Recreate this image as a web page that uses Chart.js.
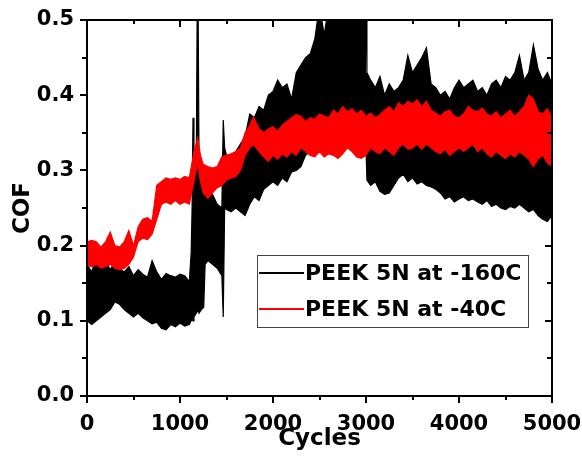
<!DOCTYPE html>
<html>
<head>
<meta charset="utf-8">
<script src="https://cdn.jsdelivr.net/npm/chart.js@4"></script>
<style>
  html, body { margin: 0; padding: 0; background: #fff; }
</style>
</head>
<body>
<canvas id="cof" width="582" height="461"></canvas>
<script>
// PEEK 5N at -160C : upper / lower edge of the noisy COF band
const blackCycles = [0,50,100,150,200,250,300,350,400,450,500,550,600,650,700,750,800,850,900,950,
  1000,1050,1100,1120,1130,1140,1150,1175,1185,1195,1205,1230,1255,1270,1300,1350,1400,1450,1465,1480,
  1500,1550,1600,1650,1700,1750,1800,1850,1900,1950,2000,2050,2100,2150,2200,2250,2300,2350,2400,2450,
  2500,2550,2600,2650,2700,2750,2800,2850,2900,2950,3000,3010,3050,3100,3150,3200,3250,3300,3350,3400,
  3450,3500,3550,3600,3650,3700,3750,3800,3850,3900,3950,4000,4050,4100,4150,4200,4250,4300,4350,4400,
  4450,4500,4550,4600,4650,4700,4750,4800,4850,4900,4950,5000];
const blackHigh = [.175,.165,.185,.170,.180,.168,.178,.170,.165,.172,.160,.168,.162,.158,.180,.165,.155,.163,.160,.158,
  .162,.160,.152,.190,.250,.370,.300,.310,.520,.520,.300,.290,.280,.270,.262,.268,.255,.250,.367,.330,
  .320,.318,.325,.335,.345,.375,.370,.385,.380,.400,.405,.420,.410,.415,.395,.430,.440,.450,.455,.475,
  .520,.480,.520,.520,.520,.520,.520,.520,.520,.520,.520,.430,.420,.410,.425,.400,.415,.405,.410,.420,
  .453,.430,.440,.450,.463,.415,.410,.400,.405,.395,.410,.420,.410,.415,.420,.405,.410,.400,.415,.420,
  .410,.425,.420,.430,.453,.420,.430,.467,.435,.420,.430,.415];
const blackLow = [.100,.095,.100,.105,.110,.115,.125,.122,.115,.110,.105,.110,.104,.100,.096,.098,.090,.088,.095,.092,
  .097,.093,.095,.100,.102,.100,.105,.110,.112,.115,.110,.115,.118,.175,.180,.175,.170,.160,.105,.250,
  .248,.245,.250,.245,.240,.255,.265,.260,.275,.280,.285,.280,.290,.285,.298,.300,.305,.320,.325,.330,
  .325,.332,.335,.340,.345,.340,.345,.340,.335,.340,.330,.287,.280,.285,.272,.268,.270,.280,.290,.295,
  .285,.290,.282,.285,.280,.278,.275,.270,.262,.265,.258,.262,.265,.260,.262,.258,.255,.260,.252,.255,
  .250,.248,.252,.250,.255,.250,.245,.248,.240,.235,.232,.240];

// PEEK 5N at -40C
const redCycles = [0,50,100,150,200,250,300,350,400,450,500,550,600,650,700,750,800,850,900,950,
  1000,1050,1100,1150,1190,1220,1250,1300,1350,1400,1450,1500,1550,1600,1650,1700,1750,1790,1850,1900,
  1950,2000,2050,2100,2150,2200,2250,2300,2350,2400,2450,2500,2550,2600,2650,2700,2750,2800,2850,2900,
  2950,3000,3050,3100,3150,3200,3250,3300,3350,3400,3450,3500,3550,3600,3650,3700,3750,3800,3850,3900,
  3950,4000,4050,4100,4150,4200,4250,4300,4350,4400,4450,4500,4550,4600,4650,4700,4750,4800,4850,4900,
  4950,5000];
const redHigh = [.205,.207,.205,.198,.205,.218,.200,.198,.205,.220,.200,.225,.235,.237,.232,.280,.285,.290,.288,.290,
  .288,.292,.290,.325,.343,.320,.308,.305,.303,.305,.318,.320,.322,.325,.330,.350,.360,.371,.355,.350,
  .355,.358,.352,.360,.365,.370,.374,.372,.365,.370,.368,.375,.372,.370,.380,.375,.385,.378,.382,.375,
  .380,.372,.376,.370,.374,.380,.385,.378,.390,.385,.392,.388,.394,.385,.392,.380,.376,.372,.378,.380,
  .372,.370,.375,.385,.380,.378,.383,.375,.372,.378,.370,.375,.380,.372,.378,.385,.400,.395,.378,.375,
  .382,.370];
const redLow = [.174,.172,.175,.170,.172,.175,.170,.168,.170,.175,.185,.205,.210,.208,.215,.235,.255,.258,.255,.260,
  .255,.258,.255,.285,.310,.285,.270,.263,.270,.277,.280,.287,.290,.292,.300,.320,.330,.335,.325,.318,
  .312,.320,.315,.322,.318,.325,.320,.330,.325,.320,.318,.325,.318,.322,.320,.316,.322,.330,.325,.318,
  .316,.320,.330,.325,.322,.330,.325,.320,.330,.335,.328,.330,.335,.328,.335,.330,.325,.322,.328,.320,
  .325,.330,.325,.330,.335,.325,.330,.322,.318,.325,.320,.316,.322,.318,.325,.320,.315,.305,.315,.320,
  .310,.305];

const xTicks = [0, 1000, 2000, 3000, 4000, 5000];
const yTicks = [0.0, 0.1, 0.2, 0.3, 0.4, 0.5];
const seriesNames = ['PEEK 5N at -160C', 'PEEK 5N at -40C'];

const FONT = 'DejaVu Sans';

function pts(xs, ys) { return xs.map((x, i) => ({ x: x, y: ys[i] })); }

// box with mirrored ticks: outward on left/bottom, inward on top/right, plus the legend
const frameTicks = {
  id: 'frameTicks',
  afterDraw(chart) {
    const { ctx, chartArea: a, scales } = chart;
    const xs = scales.x, ys = scales.y;
    ctx.save();
    ctx.strokeStyle = '#000';
    ctx.lineWidth = 2;
    ctx.strokeRect(a.left, a.top, a.right - a.left, a.bottom - a.top);
    ctx.beginPath();
    for (let i = 0; i < xTicks.length; i++) {
      const mids = i < xTicks.length - 1 ? [xTicks[i], (xTicks[i] + xTicks[i + 1]) / 2] : [xTicks[i]];
      mids.forEach((v, k) => {
        const px = Math.round(xs.getPixelForValue(v));
        const len = k === 0 ? 7 : 4;
        ctx.moveTo(px, a.bottom); ctx.lineTo(px, a.bottom + len);
        ctx.moveTo(px, a.top); ctx.lineTo(px, a.top + len);
      });
    }
    for (let i = 0; i < yTicks.length; i++) {
      const mids = i < yTicks.length - 1 ? [yTicks[i], (yTicks[i] + yTicks[i + 1]) / 2] : [yTicks[i]];
      mids.forEach((v, k) => {
        const py = Math.round(ys.getPixelForValue(v));
        const len = k === 0 ? 7 : 5;
        ctx.moveTo(a.left, py); ctx.lineTo(a.left - len, py);
        ctx.moveTo(a.right, py); ctx.lineTo(a.right - len, py);
      });
    }
    ctx.stroke();

    // legend
    const bx = 257, by = 255, bw = 271, bh = 72;
    ctx.fillStyle = '#fff';
    ctx.fillRect(bx, by, bw, bh);
    ctx.strokeStyle = '#444';
    ctx.lineWidth = 1;
    ctx.strokeRect(bx + 0.5, by + 0.5, bw, bh);
    const rows = [{ c: '#000', y: 273 }, { c: '#ff0000', y: 309 }];
    ctx.font = 'bold 22px "' + FONT + '"';
    ctx.textBaseline = 'middle';
    rows.forEach((r, i) => {
      ctx.strokeStyle = r.c;
      ctx.lineWidth = 2;
      ctx.beginPath();
      ctx.moveTo(bx + 2, r.y); ctx.lineTo(bx + 47, r.y);
      ctx.stroke();
      ctx.fillStyle = '#000';
      ctx.fillText(seriesNames[i], bx + 48, r.y + 1);
    });
    ctx.restore();
  }
};

const line = (data, color, order, fill) => ({
  data: data, borderColor: color, backgroundColor: color, borderWidth: 1.2,
  pointRadius: 0, tension: 0, order: order, fill: fill
});

new Chart(document.getElementById('cof'), {
  type: 'line',
  data: {
    datasets: [
      Object.assign(line(pts(redCycles, redHigh), '#ff0000', 0, false), { label: seriesNames[1] }),
      line(pts(redCycles, redLow), '#ff0000', 0, '-1'),
      Object.assign(line(pts(blackCycles, blackHigh), '#000000', 1, false), { label: seriesNames[0] }),
      line(pts(blackCycles, blackLow), '#000000', 1, '-1')
    ]
  },
  options: {
    responsive: false,
    animation: false,
    events: [],
    layout: { padding: { top: 20, right: 30, bottom: 0, left: 0 } },
    plugins: { legend: { display: false }, tooltip: { enabled: false } },
    scales: {
      x: {
        type: 'linear', min: 0, max: 5000,
        afterBuildTicks: s => { s.ticks = xTicks.map(v => ({ value: v })); },
        afterFit: s => { s.height = 65; s.paddingLeft = 0; s.paddingRight = 0; },
        grid: { display: false, drawTicks: false },
        border: { display: false },
        ticks: { padding: 16, color: '#000', maxRotation: 0, font: { family: FONT, size: 21, weight: 'bold' }, callback: v => String(v) },
        title: { display: true, text: 'Cycles', color: '#000', padding: { top: 0, bottom: 8 }, font: { family: FONT, size: 23, weight: 'bold' } }
      },
      y: {
        min: 0, max: 0.5,
        afterBuildTicks: s => { s.ticks = yTicks.map(v => ({ value: v })); },
        afterFit: s => { s.width = 87; s.paddingTop = 0; s.paddingBottom = 0; },
        grid: { display: false, drawTicks: false },
        border: { display: false },
        ticks: { padding: 13, color: '#000', font: { family: FONT, size: 21, weight: 'bold' }, callback: v => v.toFixed(1) },
        title: { display: true, text: 'COF', color: '#000', padding: { top: 9, bottom: 0 }, font: { family: FONT, size: 23, weight: 'bold' } }
      }
    }
  },
  plugins: [frameTicks]
});
</script>
</body>
</html>
